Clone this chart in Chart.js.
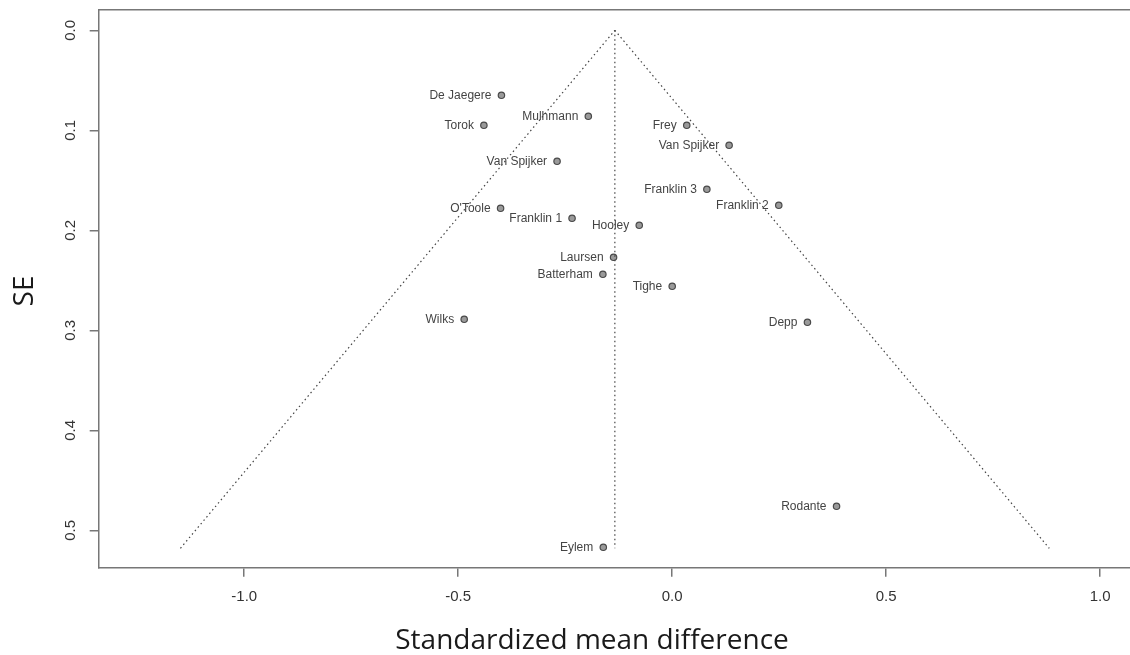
<!DOCTYPE html>
<html>
<head>
<meta charset="utf-8">
<script src="https://cdn.jsdelivr.net/npm/chart.js@4/dist/chart.umd.min.js"></script>
<style>
  html, body { margin: 0; padding: 0; background: #fff; overflow: hidden; }
  #funnel { display: block; }
</style>
</head>
<body>
<canvas id="funnel" width="1140" height="655"></canvas>
<script>
// studies
const studies = ['De Jaegere', 'Mulhmann', 'Torok', 'Frey', 'Van Spijker', 'Van Spijker',
  'Franklin 3', 'Franklin 2', "O'Toole", 'Franklin 1', 'Hooley', 'Laursen',
  'Batterham', 'Tighe', 'Wilks', 'Depp', 'Rodante', 'Eylem'];
const smd = [-0.399, -0.196, -0.440, 0.034, 0.133, -0.269,
  0.081, 0.249, -0.401, -0.234, -0.077, -0.137,
  -0.162, 0.000, -0.486, 0.316, 0.384, -0.161];
const se = [0.065, 0.086, 0.095, 0.095, 0.115, 0.131,
  0.159, 0.175, 0.178, 0.188, 0.195, 0.227,
  0.244, 0.256, 0.289, 0.292, 0.476, 0.517];

// funnel outline
const funnelCenter = -0.134;
const funnelTopSE = 0;
const funnelBottomSE = 0.518;
const funnelLeftX = -1.149;
const funnelRightX = 0.881;

// axis ticks
const xTicks = [-1.0, -0.5, 0.0, 0.5, 1.0];
const yTicks = [0.0, 0.1, 0.2, 0.3, 0.4, 0.5];

const axisColor = '#777';
const tickFont = { family: 'Liberation Sans, Arial, sans-serif', size: 15 };

const dotted = {
  showLine: true,
  pointRadius: 0,
  borderColor: '#444',
  borderWidth: 1.2,
  borderDash: [1.5, 3],
  fill: false
};

// R-style extras: box top, rotated y tick labels, study labels, axis titles
const funnelDecor = {
  id: 'funnelDecor',
  afterDatasetsDraw(chart) {
    const ctx = chart.ctx;
    const area = chart.chartArea;
    const y = chart.scales.y;

    ctx.save();
    ctx.strokeStyle = axisColor;
    ctx.lineWidth = 1.5;
    ctx.beginPath();
    ctx.moveTo(area.left, area.top);
    ctx.lineTo(area.right, area.top);
    ctx.stroke();

    // y tick labels, parallel to the axis
    ctx.fillStyle = '#333';
    ctx.font = '15px "Liberation Sans", Arial, sans-serif';
    ctx.textAlign = 'center';
    ctx.textBaseline = 'middle';
    yTicks.forEach(v => {
      ctx.save();
      ctx.translate(71, y.getPixelForValue(v));
      ctx.rotate(-Math.PI / 2);
      ctx.fillText(v.toFixed(1), 0, 0);
      ctx.restore();
    });

    // study labels, left of each point
    const meta = chart.getDatasetMeta(3);
    ctx.fillStyle = '#444';
    ctx.font = '12px "Liberation Sans", Arial, sans-serif';
    ctx.textAlign = 'right';
    meta.data.forEach((pt, i) => {
      ctx.fillText(studies[i], pt.x - 10, pt.y);
    });

    // axis titles
    ctx.fillStyle = '#1a1a1a';
    ctx.font = '28px "Open Sans", sans-serif';
    ctx.textAlign = 'center';
    ctx.textBaseline = 'alphabetic';
    ctx.fillText('Standardized mean difference', 592, 649);
    ctx.save();
    ctx.translate(33, 291);
    ctx.rotate(-Math.PI / 2);
    ctx.fillText('SE', 0, 0);
    ctx.restore();
    ctx.restore();
  }
};

new Chart(document.getElementById('funnel'), {
  type: 'scatter',
  data: {
    datasets: [
      Object.assign({ data: [{ x: funnelLeftX, y: funnelBottomSE }, { x: funnelCenter, y: funnelTopSE }] }, dotted),
      Object.assign({ data: [{ x: funnelCenter, y: funnelTopSE }, { x: funnelRightX, y: funnelBottomSE }] }, dotted),
      Object.assign({ data: [{ x: funnelCenter, y: funnelTopSE }, { x: funnelCenter, y: funnelBottomSE }] }, dotted),
      {
        data: smd.map((v, i) => ({ x: v, y: se[i] })),
        pointRadius: 3.2,
        pointBackgroundColor: '#9a9a9a',
        pointBorderColor: '#4a4a4a',
        pointBorderWidth: 1.2
      }
    ]
  },
  options: {
    responsive: false,
    devicePixelRatio: 1,
    animation: false,
    layout: { padding: { top: 9.7, left: 0, right: 9, bottom: 0 } },
    plugins: { legend: { display: false }, tooltip: { enabled: false } },
    scales: {
      x: {
        type: 'linear',
        min: -1.34,
        max: 1.072,
        afterFit: s => { s.height = 87.3; },
        afterBuildTicks: s => { s.ticks = xTicks.map(v => ({ value: v })); },
        ticks: {
          includeBounds: false,
          font: tickFont,
          color: '#333',
          padding: 11,
          maxRotation: 0,
          callback: v => v.toFixed(1)
        },
        grid: { drawOnChartArea: false, drawTicks: true, tickLength: 9, color: axisColor, lineWidth: 1.5 },
        border: { display: true, color: axisColor, width: 1.5 }
      },
      y: {
        type: 'linear',
        reverse: true,
        min: -0.0206,
        max: 0.5374,
        afterFit: s => { s.width = 98.7; },
        afterBuildTicks: s => { s.ticks = yTicks.map(v => ({ value: v })); },
        ticks: { display: false },
        grid: { drawOnChartArea: false, drawTicks: true, tickLength: 9, color: axisColor, lineWidth: 1.5 },
        border: { display: true, color: axisColor, width: 1.5 }
      }
    }
  },
  plugins: [funnelDecor]
});
</script>
</body>
</html>
